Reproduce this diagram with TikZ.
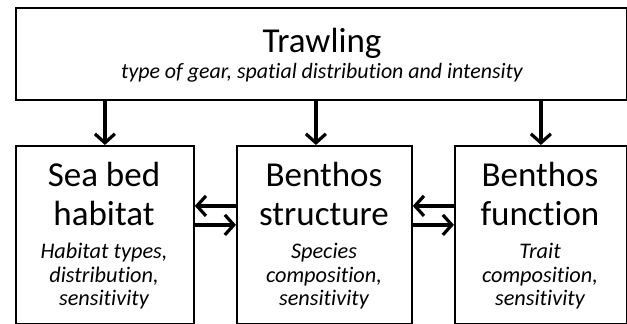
\documentclass[tikz,border=0pt]{standalone}
\usepackage{fontspec}
\setmainfont[Ligatures=NoCommon]{Carlito}
\usetikzlibrary{arrows.meta}
\begin{document}
\begin{tikzpicture}[x=1pt,y=1pt,
  box/.style={draw=black,line width=1.8pt,rectangle,inner sep=0pt,anchor=north west},
  big/.style={anchor=base,inner sep=0pt,font=\fontsize{35}{39}\selectfont},
  small/.style={anchor=base,inner sep=0pt,font=\fontsize{22.3}{23}\selectfont\itshape},
  arr/.style={line width=3.2pt,-{Straight Barb[length=9pt,width=20pt]}}]
\useasboundingbox (0,0) rectangle (627,-324);
% boxes
\node[box,minimum width=611pt,minimum height=92pt] (top) at (15,-7) {};
\node[box,minimum width=178pt,minimum height=178pt] (lb) at (15,-145) {};
\node[box,minimum width=175pt,minimum height=178pt] (mb) at (236,-145) {};
\node[box,minimum width=172pt,minimum height=178pt] (rb) at (454,-145) {};
% texts
\node[big] (t1) at (322,-52) {Trawling};
\node[small,font=\fontsize{21.9}{23}\selectfont\itshape] (t2) at (322,-78) {type of gear, spatial distribution and intensity};
\node[big] (l1) at (104,-186) {Sea bed};
\node[big] (l2) at (104,-225) {habitat};
\node[small] (l3) at (104,-258) {Habitat types,};
\node[small] (l4) at (104,-282) {distribution,};
\node[small] (l5) at (104,-305) {sensitivity};
\node[big] (m1) at (324,-186) {Benthos};
\node[big] (m2) at (324,-225) {structure};
\node[small] (m3) at (324,-258) {Species};
\node[small] (m4) at (324,-282) {composition,};
\node[small] (m5) at (324,-305) {sensitivity};
\node[big] (r1) at (540,-186) {Benthos};
\node[big] (r2) at (540,-225) {function};
\node[small] (r3) at (540,-258) {Trait};
\node[small] (r4) at (540,-282) {composition,};
\node[small] (r5) at (540,-305) {sensitivity};
% arrows
\draw[arr] (top.south -| lb.north) -- (lb.north);
\draw[arr] ([xshift=-8.5pt]mb.north |- top.south) -- ([xshift=-8.5pt]mb.north);
\draw[arr] (top.south -| rb.north) -- (rb.north);
\draw[arr] ([yshift=29pt]mb.west) -- ([yshift=29pt]lb.east);
\draw[arr] ([yshift=10pt]lb.east) -- ([yshift=10pt]mb.west);
\draw[arr] ([yshift=29pt]rb.west) -- ([yshift=29pt]mb.east);
\draw[arr] ([yshift=10pt]mb.east) -- ([yshift=10pt]rb.west);
\end{tikzpicture}
\end{document}
